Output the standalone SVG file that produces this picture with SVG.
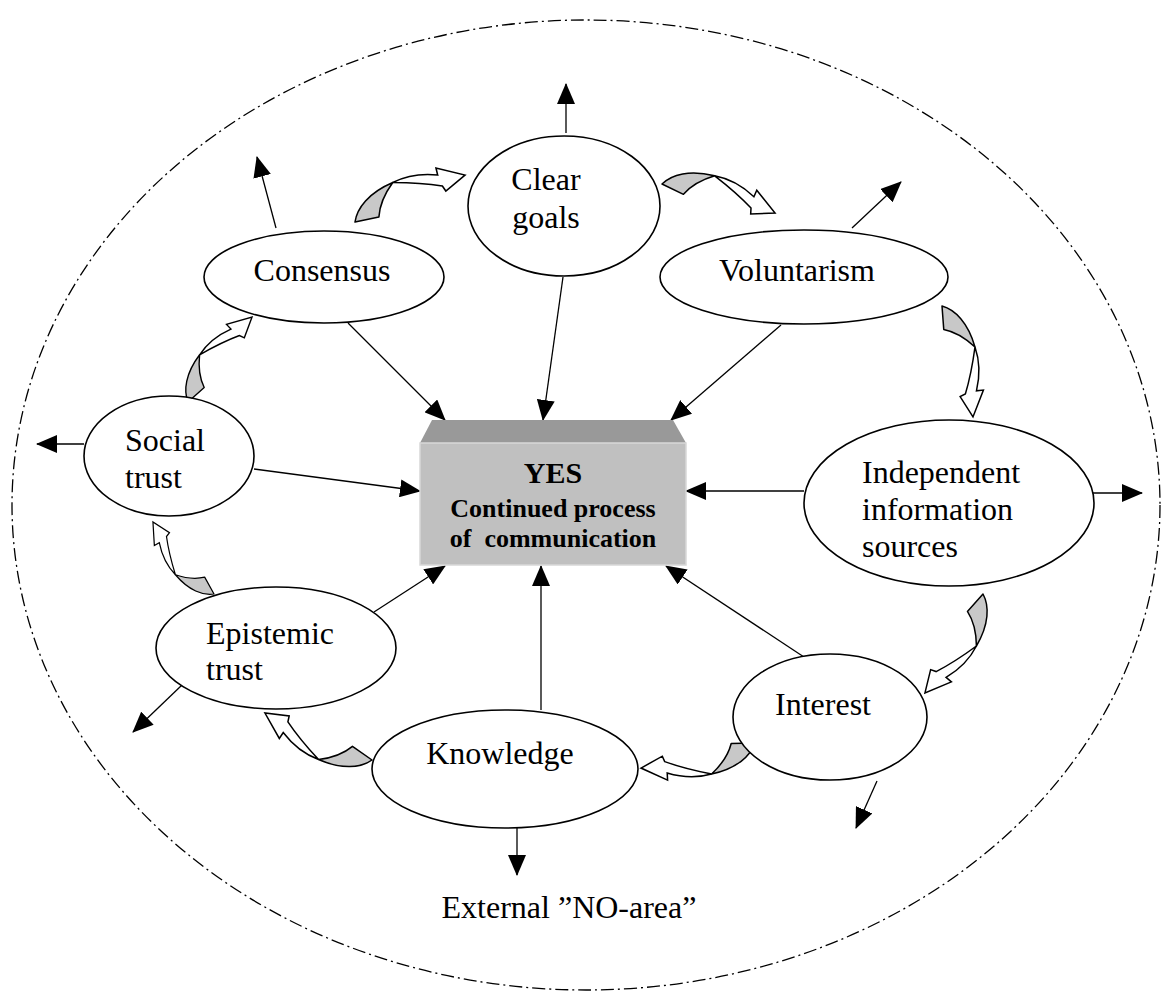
<svg xmlns="http://www.w3.org/2000/svg" xmlns:xlink="http://www.w3.org/1999/xlink" width="1162" height="994" viewBox="0 0 1162 994">
  <style>
    .node { fill: #ffffff; stroke: #000000; stroke-width: 1.6; }
    .lbl { font-family: "Liberation Serif", "Times New Roman", serif; font-size: 32px; fill: #000000; }
    .mid { text-anchor: middle; }
    .box-txt { font-family: "Liberation Serif", "Times New Roman", serif; font-weight: bold; fill: #000000; text-anchor: middle; }
    .conn { stroke: #000000; stroke-width: 1.3; fill: none; marker-end: url(#ah); }
    .back { fill: #c8c8c8; stroke: #000000; stroke-width: 1.3; stroke-linejoin: round; }
    .front { fill: #ffffff; stroke: #000000; stroke-width: 1.3; stroke-linejoin: miter; }
  </style>
  <defs>
    <marker id="ah" markerUnits="userSpaceOnUse" viewBox="0 0 21 18" markerWidth="21" markerHeight="18" refX="20" refY="9" orient="auto">
      <path d="M0,0 L21,9 L0,18 z" fill="#000000"/>
    </marker>
    <!-- curved ribbon arrow: tail at origin, tip at (100,0), bulging towards -y -->
    <g id="carrow">
      <path class="back" d="M0,0 C6,-10 20,-18 42,-18 C32,-12 24,-4 20,4 Z"/>
      <path class="front" d="M42,-18 C58,-19 70,-14 79,-9 L80,-15 L100,0 L80,6 L79,1 C68,-6 56,-12 42,-18 Z"/>
    </g>
  </defs>

  <rect width="1162" height="994" fill="#ffffff"/>

  <!-- outer boundary -->
  <ellipse id="boundary" cx="586" cy="505" rx="574" ry="485" fill="none" stroke="#000000" stroke-width="1.3" stroke-dasharray="13 4 2 4"/>

  <!-- connectors -->
  <g id="connectors">
    <!-- outward arrows -->
    <line class="conn" x1="566" y1="133" x2="566" y2="84"/>
    <line class="conn" x1="276" y1="228" x2="257" y2="157"/>
    <line class="conn" x1="852" y1="228" x2="901" y2="182"/>
    <line class="conn" x1="84" y1="444" x2="37" y2="444"/>
    <line class="conn" x1="1093" y1="493" x2="1142" y2="493"/>
    <line class="conn" x1="182" y1="685" x2="133" y2="732"/>
    <line class="conn" x1="517" y1="828" x2="517" y2="875"/>
    <line class="conn" x1="877" y1="781" x2="856" y2="828"/>
    <!-- inward arrows -->
    <line class="conn" x1="348" y1="323" x2="445" y2="420"/>
    <line class="conn" x1="563" y1="277" x2="543" y2="420"/>
    <line class="conn" x1="781" y1="325" x2="671" y2="420"/>
    <line class="conn" x1="254" y1="469" x2="420" y2="491"/>
    <line class="conn" x1="804" y1="491" x2="686" y2="491"/>
    <line class="conn" x1="374" y1="612" x2="445" y2="566"/>
    <line class="conn" x1="541" y1="710" x2="541" y2="566"/>
    <line class="conn" x1="807" y1="659" x2="666" y2="566"/>
    <!-- curved cycle arrows -->
    <use xlink:href="#carrow" transform="translate(355,222) rotate(-23.1) scale(1.196)"/>
    <use xlink:href="#carrow" transform="translate(662,184) rotate(14.4) scale(1.167)"/>
    <use xlink:href="#carrow" transform="translate(942,306) rotate(74.4) scale(1.152)"/>
    <use xlink:href="#carrow" transform="translate(983,594) rotate(120.4) scale(1.147)"/>
    <use xlink:href="#carrow" transform="translate(755,743) rotate(167.6) scale(1.167)"/>
    <use xlink:href="#carrow" transform="translate(372,760) rotate(203.7) scale(1.169)"/>
    <use xlink:href="#carrow" transform="translate(214,594) rotate(-130.3) scale(0.944)"/>
    <use xlink:href="#carrow" transform="translate(188,402) rotate(-53) scale(1.064)"/>
  </g>

  <!-- central box -->
  <g id="yes-box">
    <polygon points="432,420 673,420 686,443 420,443" fill="#999999"/>
    <rect x="420" y="443" width="266" height="122" fill="#c0c0c0" stroke="#d8d8d8" stroke-width="1.5"/>
    <text class="box-txt" x="553" y="483" font-size="30">YES</text>
    <text class="box-txt" x="553" y="517" font-size="26">Continued process</text>
    <text class="box-txt" x="553" y="547" font-size="26" style="white-space:pre">of  communication</text>
  </g>

  <g id="clear-goals">
    <ellipse class="node" cx="564" cy="206" rx="96" ry="70"/>
    <text class="lbl mid" x="546" y="190">Clear</text>
    <text class="lbl mid" x="546" y="228">goals</text>
  </g>

  <g id="consensus">
    <ellipse class="node" cx="324" cy="277" rx="120" ry="46"/>
    <text class="lbl mid" x="322" y="281">Consensus</text>
  </g>

  <g id="voluntarism">
    <ellipse class="node" cx="804" cy="277" rx="144" ry="47"/>
    <text class="lbl mid" x="797" y="281">Voluntarism</text>
  </g>

  <g id="social-trust">
    <ellipse class="node" cx="169" cy="456" rx="85" ry="60"/>
    <text class="lbl" x="125" y="451">Social</text>
    <text class="lbl" x="125" y="488">trust</text>
  </g>

  <g id="independent-sources">
    <ellipse class="node" cx="949" cy="503" rx="145" ry="83"/>
    <text class="lbl" x="862" y="483">Independent</text>
    <text class="lbl" x="862" y="520">information</text>
    <text class="lbl" x="862" y="557">sources</text>
  </g>

  <g id="epistemic-trust">
    <ellipse class="node" cx="276" cy="648" rx="120" ry="61"/>
    <text class="lbl" x="206" y="644">Epistemic</text>
    <text class="lbl" x="206" y="680">trust</text>
  </g>

  <g id="knowledge">
    <ellipse class="node" cx="505" cy="769" rx="133" ry="59"/>
    <text class="lbl mid" x="500" y="764">Knowledge</text>
  </g>

  <g id="interest">
    <ellipse class="node" cx="830" cy="717" rx="97" ry="63"/>
    <text class="lbl mid" x="823" y="715">Interest</text>
  </g>

  <g id="no-area">
    <text class="lbl mid" x="569" y="918">External ”NO-area”</text>
  </g>
</svg>
